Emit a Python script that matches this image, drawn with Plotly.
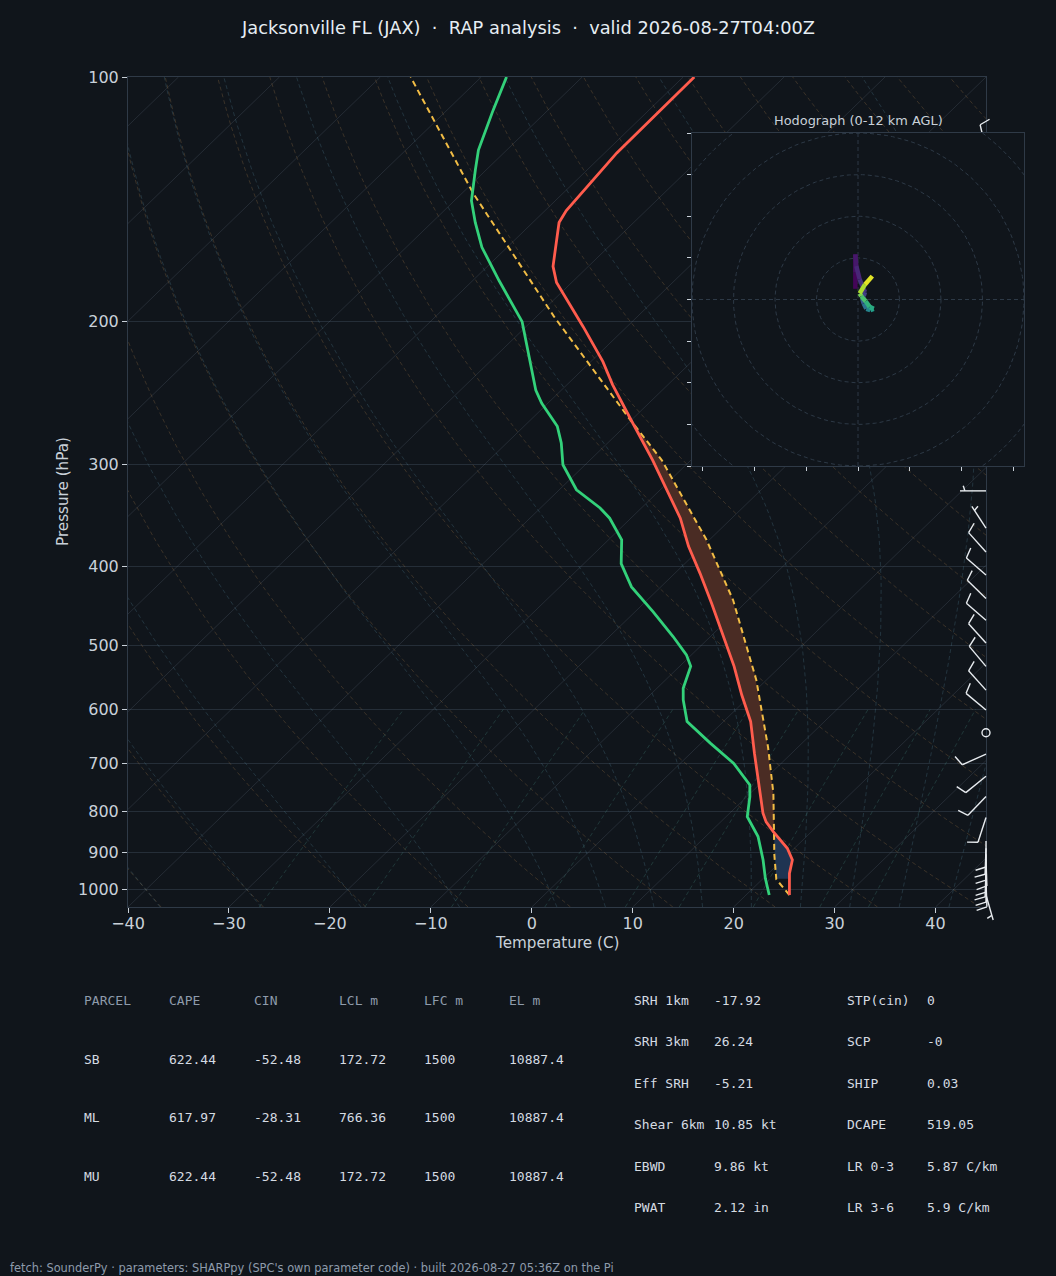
import numpy as np
import plotly.graph_objects as go
from plotly.colors import sample_colorscale

# ------------------------------------------------------------------ data
TITLE = ("Jacksonville FL (JAX)\u00a0\u00a0·\u00a0\u00a0RAP analysis"
         "\u00a0\u00a0·\u00a0\u00a0valid 2026-08-27T04:00Z")
FOOTER = ("fetch: SounderPy · parameters: SHARPpy (SPC's own parameter code) · "
          "built 2026-08-27 05:36Z on the Pi")

# environmental temperature (hPa, degC)
temp_p = [1015, 955, 919, 889, 848, 825, 805, 747, 679, 621, 576, 531, 495, 444,
          408, 378, 349, 321, 296, 262, 239, 224, 203, 179, 171, 151, 146, 124,
          109, 100]
temp_c = [24.3, 22.1, 21.0, 19.3, 16.2, 14.5, 13.3, 10.2, 6.3, 2.7, -0.9, -4.6,
          -8.0, -13.3, -17.5, -21.4, -25.1, -29.5, -33.8, -40.5, -45.5, -48.8,
          -54.3, -61.5, -63.5, -67.4, -67.9, -68.8, -68.9, -68.9]

# dewpoint
dewp_p = [1015, 968, 919, 860, 813, 768, 743, 699, 660, 621, 584, 565, 531, 514,
          488, 455, 424, 397, 371, 349, 339, 322, 300, 282, 269, 252, 243, 217,
          200, 178, 162, 151, 142, 130, 123, 110, 100]
dewp_c = [22.3, 20.2, 18.1, 15.2, 12.1, 10.3, 9.1, 5.3, 0.9, -3.6, -6.2, -7.4,
          -8.9, -10.5, -13.7, -18.2, -22.9, -26.3, -28.7, -32.1, -34.1, -38.3,
          -42.2, -44.6, -46.7, -50.6, -52.5, -57.4, -60.9, -67.4, -72.5, -75.7,
          -78.3, -81.1, -82.8, -85.4, -87.5]

# surface-based parcel path
parcel_p = [1015, 971, 906, 848, 761, 667, 552, 440, 371, 296, 263, 197, 139, 100]
parcel_c = [24.3, 21.4, 18.7, 16.3, 12.3, 7.0, -1.0, -11.5, -20.3, -32.9, -40.4,
            -58.3, -78.9, -97.0]

# wind barbs (pressure hPa, direction deg, speed kt)
barb_p = [123, 323, 359, 384, 410, 438, 466, 497, 531, 568, 601, 641, 681, 725,
          768, 815, 871, 889, 904, 919, 935, 948, 962, 975, 1015]
barb_dir = [347, 270, 327, 318, 311, 314, 311, 318, 320, 318, 310, 0, 246, 231,
            224, 198, 180, 182, 180, 178, 180, 182, 180, 178, 164]
barb_kt = [10, 5, 5, 10, 10, 10, 10, 10, 10, 10, 10, 0, 10, 10, 10, 10, 10, 10,
           10, 10, 10, 10, 10, 10, 5]

# hodograph (height km AGL, u, v)
hodo_km = [0.0, 0.3, 0.6, 1.0, 1.5, 2.0, 2.5, 3.0, 4.0, 5.0, 6.0, 7.0, 7.5, 8.0,
           9.0, 10.0, 11.0, 12.0]
hodo_u = [-0.64, -0.64, -0.64, -0.40, 0.40, 1.69, 1.37, 1.04, 1.37, 2.01, 2.97,
          3.78, 2.81, 1.85, 0.80, 0.40, 1.69, 3.45]
hodo_v = [2.57, 6.43, 10.84, 8.03, 4.82, 1.77, 0.80, 0.16, -0.96, -2.25, -2.57,
          -2.25, -1.77, -0.40, 0.80, 1.45, 3.61, 5.62]

temp_ticks = [-40, -30, -20, -10, 0, 10, 20, 30, 40]
temp_ticklabels = ["\u221240", "\u221230", "\u221220", "\u221210", "0", "10", "20", "30", "40"]
pres_ticks = [100, 200, 300, 400, 500, 600, 700, 800, 900, 1000]
hodo_rings = [10, 20, 30, 40, 50]
hodo_xticks = [-37.5, -25, -12.5, 0, 12.5, 25, 37.5]
hodo_yticks = [-40, -30, -20, -10, 0, 10, 20, 30, 40]

parcel_header = ["PARCEL", "CAPE", "CIN", "LCL m", "LFC m", "EL m"]
parcel_rows = [
    ["SB", "622.44", "-52.48", "172.72", "1500", "10887.4"],
    ["ML", "617.97", "-28.31", "766.36", "1500", "10887.4"],
    ["MU", "622.44", "-52.48", "172.72", "1500", "10887.4"],
]
param_left_names = ["SRH 1km", "SRH 3km", "Eff SRH", "Shear 6km", "EBWD", "PWAT"]
param_left_vals = ["-17.92", "26.24", "-5.21", "10.85 kt", "9.86 kt", "2.12 in"]
param_right_names = ["STP(cin)", "SCP", "SHIP", "DCAPE", "LR 0-3", "LR 3-6"]
param_right_vals = ["0", "-0", "0.03", "519.05", "5.87 C/km", "5.9 C/km"]

dry_t0 = list(range(-40, 246, 10))
moist_t0 = [-40, -30, -20, -10] + list(range(0, 46, 5))
mixing_w = [0.0004, 0.001, 0.002, 0.004, 0.007, 0.01, 0.016, 0.024, 0.032]

# ------------------------------------------------------------------ layout geometry
W, H = 1056, 1276
PX0, PX1, PY0, PY1 = 128, 986, 77, 907          # main plot box (px)
HX0, HX1, HY0, HY1 = 692, 1024, 133, 466        # hodograph box (px)
BX0, BX1, BY0, BY1 = 118, 1010, 60, 937         # unclipped barb overlay box (px)
XMIN, XMAX = -40, 45
P_BOT, P_TOP = 1050, 100
DEC = np.log10(P_BOT / P_TOP)
K = (XMAX - XMIN) / DEC                          # 45-degree skew
PX_PER_C = (PX1 - PX0) / (XMAX - XMIN)
PX_PER_DEC = (PY1 - PY0) / DEC

BG = "#10151b"
GRID = "#252e38"
FRAME = "#2f3a47"
TXT = "#c9d1d9"


def skew(t, p):
    return np.asarray(t, dtype=float) + K * np.log10(P_BOT / np.asarray(p, dtype=float))


def joined(curves):
    xs, ys = [], []
    for x, y in curves:
        xs += list(x) + [None]
        ys += list(y) + [None]
    return xs, ys


fig = go.Figure()

# ---- isotherms
iso = []
for t in range(-120, 41, 10):
    pp = np.array([P_BOT, P_TOP])
    iso.append((skew([t, t], pp), pp))
x, y = joined(iso)
fig.add_trace(go.Scatter(x=x, y=y, mode="lines", hoverinfo="skip",
                         line=dict(color="rgba(120,140,160,0.22)", width=0.9)))

# ---- dry adiabats
p_full = np.logspace(np.log10(P_BOT), np.log10(P_TOP), 90)
dry = []
for t0 in dry_t0:
    tt = (t0 + 273.15) * (p_full / 1000.0) ** 0.2857 - 273.15
    dry.append((skew(tt, p_full), p_full))
x, y = joined(dry)
fig.add_trace(go.Scatter(x=x, y=y, mode="lines", hoverinfo="skip",
                         line=dict(color="rgba(160,120,70,0.33)", width=0.9, dash="4px,3px")))

# ---- moist adiabats
RD, CP, LV, EPS = 287.04, 1005.7, 2.501e6, 0.622


def dTdp(T, p):
    es = 6.112 * np.exp(17.67 * (T - 273.15) / (T - 29.65))
    rs = EPS * es / (p - es)
    return ((RD * T + LV * rs) / p) / (CP + (LV * LV * rs * EPS) / (RD * T * T))


def integrate(T0, ps):
    out = [T0]
    T = T0
    for i in range(len(ps) - 1):
        h = (ps[i + 1] - ps[i]) / 4.0
        p = ps[i]
        for _ in range(4):
            k1 = dTdp(T, p)
            k2 = dTdp(T + h * k1 / 2, p + h / 2)
            k3 = dTdp(T + h * k2 / 2, p + h / 2)
            k4 = dTdp(T + h * k3, p + h)
            T += h * (k1 + 2 * k2 + 2 * k3 + k4) / 6
            p += h
        out.append(T)
    return np.array(out)


p_up = np.logspace(3, 2, 100)
p_dn = np.linspace(1000, P_BOT, 6)
moist = []
for t0 in moist_t0:
    up = integrate(t0 + 273.15, p_up)
    dn = integrate(t0 + 273.15, p_dn)
    pp = np.concatenate([p_dn[::-1], p_up[1:]])
    tt = np.concatenate([dn[::-1], up[1:]]) - 273.15
    moist.append((skew(tt, pp), pp))
x, y = joined(moist)
fig.add_trace(go.Scatter(x=x, y=y, mode="lines", hoverinfo="skip",
                         line=dict(color="rgba(80,130,150,0.32)", width=0.9, dash="4px,3px")))

# ---- mixing-ratio lines
p_mix = np.linspace(P_BOT, 600, 30)
mix = []
for w in mixing_w:
    e = w * p_mix / (EPS + w)
    le = np.log(e / 6.112)
    td = 243.5 * le / (17.67 - le)
    mix.append((skew(td, p_mix), p_mix))
x, y = joined(mix)
fig.add_trace(go.Scatter(x=x, y=y, mode="lines", hoverinfo="skip",
                         line=dict(color="rgba(70,140,130,0.32)", width=0.9, dash="4px,3px")))

# ---- CAPE / CIN shading
pg = np.logspace(np.log10(parcel_p[0]), np.log10(P_TOP), 900)
te = np.interp(-np.log10(pg), -np.log10(temp_p), temp_c)
tp = np.interp(-np.log10(pg), -np.log10(parcel_p), parcel_c)
diff = tp - te
i_lcl = int(np.argmax(pg <= parcel_p[1]))
i_lfc = i_lcl + int(np.argmax(diff[i_lcl:] > 0))
i_el = i_lfc + int(np.argmax(diff[i_lfc:] <= 0))


def region(i0, i1):
    ps = pg[i0:i1 + 1]
    xa = skew(tp[i0:i1 + 1], ps)
    xb = skew(te[i0:i1 + 1], ps)
    return list(xa) + list(xb[::-1]), list(ps) + list(ps[::-1])


x, y = region(i_lfc, i_el)
fig.add_trace(go.Scatter(x=x, y=y, mode="lines", fill="toself", fillcolor="#4a2c24",
                         line=dict(width=0, color="#4a2c24"), hoverinfo="skip"))
x, y = region(i_lcl, i_lfc)
fig.add_trace(go.Scatter(x=x, y=y, mode="lines", fill="toself", fillcolor="#1f3452",
                         line=dict(width=0, color="#1f3452"), hoverinfo="skip"))

# ---- profiles
fig.add_trace(go.Scatter(x=skew(parcel_c, parcel_p), y=parcel_p, mode="lines",
                         line=dict(color="#f2bd45", width=2.0, dash="6px,4px")))
fig.add_trace(go.Scatter(x=skew(temp_c, temp_p), y=temp_p, mode="lines",
                         line=dict(color="#ff5c4d", width=2.8)))
fig.add_trace(go.Scatter(x=skew(dewp_c, dewp_p), y=dewp_p, mode="lines",
                         line=dict(color="#33d17a", width=2.8)))

# ---- wind barbs (matplotlib-style geometry in pixels) on an unclipped overlay subplot
L = 26.0
FH, FW, SP = 0.4 * L, 0.25 * L, 0.125 * L
bx, by, cx, cy = [], [], [], []
for p, d, s in zip(barb_p, barb_dir, barb_kt):
    if s < 2.5:
        cx.append(XMAX)
        cy.append(p)
        continue
    r = np.deg2rad(d)
    sx, sy = np.sin(r), np.cos(r)
    nx, ny = np.cos(r), -np.sin(r)
    segs = [((0.0, 0.0), (L * sx, L * sy))]
    n5 = int(round(s / 5.0))
    nfull, nhalf = divmod(n5, 2)
    off = L
    for _ in range(nfull):
        a = (off * sx, off * sy)
        segs.append((a, (a[0] + FH * nx + FW / 2 * sx, a[1] + FH * ny + FW / 2 * sy)))
        off -= SP
    if nhalf:
        if off == L:
            off -= 1.5 * SP
        a = (off * sx, off * sy)
        segs.append((a, (a[0] + FH / 2 * nx + FW / 4 * sx, a[1] + FH / 2 * ny + FW / 4 * sy)))
    for a, b in segs:
        for dx, dy in (a, b):
            bx.append(XMAX + dx / PX_PER_C)
            by.append(p * 10 ** (-dy / PX_PER_DEC))
        bx.append(None)
        by.append(None)
fig.add_trace(go.Scatter(x=bx, y=by, xaxis="x2", yaxis="y2", mode="lines", hoverinfo="skip",
                         line=dict(color="#e8ecf0", width=1.4)))
fig.add_trace(go.Scatter(x=cx, y=cy, xaxis="x2", yaxis="y2", mode="markers", hoverinfo="skip",
                         marker=dict(symbol="circle-open", size=8, color="#e8ecf0",
                                     line=dict(width=1.4, color="#e8ecf0"))))

# ---- hodograph (opaque panel first, then rings, then the trace)
fig.add_trace(go.Scatter(x=[-45, 45, 45, -45, -45], y=[-45, -45, 45, 45, -45], xaxis="x3",
                         yaxis="y3", mode="lines", fill="toself", fillcolor=BG,
                         line=dict(width=0, color=BG), hoverinfo="skip"))
th = np.linspace(0, 2 * np.pi, 181)
rings = [(r * np.cos(th), r * np.sin(th)) for r in hodo_rings]
x, y = joined(rings)
fig.add_trace(go.Scatter(x=x, y=y, xaxis="x3", yaxis="y3", mode="lines", hoverinfo="skip",
                         line=dict(color="#2d3946", width=1, dash="4px,3px")))
fig.add_trace(go.Scatter(x=[-40, 40, None, 0, 0], y=[0, 0, None, -40, 40], xaxis="x3",
                         yaxis="y3", mode="lines", hoverinfo="skip",
                         line=dict(color="#2d3946", width=1, dash="4px,3px")))
hmax = max(hodo_km)
for i in range(len(hodo_km) - 1):
    c = sample_colorscale("Viridis", [(hodo_km[i] + hodo_km[i + 1]) / 2 / hmax])[0]
    fig.add_trace(go.Scatter(x=hodo_u[i:i + 2], y=hodo_v[i:i + 2], xaxis="x3", yaxis="y3",
                             mode="lines", hoverinfo="skip", line=dict(color=c, width=4.5)))

# ------------------------------------------------------------------ annotations
anns = []


def ann(text, xp, yp, size, color, family="DejaVu Sans", xanchor="left", angle=0):
    anns.append(dict(text=text, x=xp / W, y=1 - yp / H, xref="paper", yref="paper",
                     xanchor=xanchor, yanchor="middle", showarrow=False, textangle=angle,
                     borderpad=0, font=dict(size=size, color=color, family=family)))


ann(TITLE, 528, 27, 17.8, "#e6edf3", xanchor="center")
ann("Temperature (C)", (PX0 + PX1) / 2, 943, 15.2, TXT, xanchor="center")
ann("Pressure (hPa)", 63, (PY0 + PY1) / 2, 15.2, TXT, xanchor="center", angle=-90)
ann("Hodograph (0-12 km AGL)", (HX0 + HX1) / 2, 120, 12.9, TXT, xanchor="center")

MONO = "DejaVu Sans Mono"
col_x = [83, 168, 253, 338, 423, 508]
row_y = [1000, 1059, 1117, 1176]
for cx_, h in zip(col_x, parcel_header):
    ann(h, cx_, row_y[0], 13, "#8e9bab", MONO)
for ry, row in zip(row_y[1:], parcel_rows):
    for cx_, v in zip(col_x, row):
        ann(v, cx_, ry, 13, "#d5dbe2", MONO)

prow_y = [1000, 1041, 1083, 1124, 1166, 1207]
for ry, n, v in zip(prow_y, param_left_names, param_left_vals):
    ann(n, 633, ry, 13, "#d5dbe2", MONO)
    ann(v, 713, ry, 13, "#d5dbe2", MONO)
for ry, n, v in zip(prow_y, param_right_names, param_right_vals):
    ann(n, 846, ry, 13, "#d5dbe2", MONO)
    ann(v, 926, ry, 13, "#d5dbe2", MONO)

ann(FOOTER, 9, 1268, 11.4, "#8e9bab")

# ------------------------------------------------------------------ layout
b_xrange = [XMIN + (BX0 - PX0) / PX_PER_C, XMIN + (BX1 - PX0) / PX_PER_C]
b_yrange = [np.log10(P_BOT) + (BY1 - PY1) / PX_PER_DEC,
            np.log10(P_TOP) - (PY0 - BY0) / PX_PER_DEC]
hidden = dict(visible=False, showgrid=False, zeroline=False, showline=False,
              showticklabels=False, ticks="", automargin=False)

fig.update_layout(
    width=W, height=H, showlegend=False,
    margin=dict(l=0, r=0, t=0, b=0, pad=0),
    paper_bgcolor=BG, plot_bgcolor="rgba(0,0,0,0)",
    font=dict(family="DejaVu Sans", color=TXT),
    annotations=anns,
    xaxis=dict(domain=[PX0 / W, PX1 / W], range=[XMIN, XMAX], anchor="y",
               tickmode="array", tickvals=temp_ticks, ticktext=temp_ticklabels,
               ticks="outside", ticklen=5, tickcolor=TXT, tickwidth=1,
               ticklabelstandoff=-3,
               tickfont=dict(size=16, color=TXT, family="DejaVu Sans"),
               showgrid=False, zeroline=False, showline=True, linecolor=FRAME,
               linewidth=1, mirror=True, automargin=False),
    yaxis=dict(domain=[1 - PY1 / H, 1 - PY0 / H], type="log",
               range=[np.log10(P_BOT), np.log10(P_TOP)], anchor="x",
               tickmode="array", tickvals=pres_ticks, ticktext=[str(v) for v in pres_ticks],
               ticks="outside", ticklen=5, tickcolor=TXT, tickwidth=1,
               tickfont=dict(size=16, color=TXT, family="DejaVu Sans"),
               showgrid=True, gridcolor=GRID, gridwidth=1, zeroline=False,
               showline=True, linecolor=FRAME, linewidth=1, mirror=True, automargin=False),
    xaxis2=dict(domain=[BX0 / W, BX1 / W], range=b_xrange, anchor="y2", **hidden),
    yaxis2=dict(domain=[1 - BY1 / H, 1 - BY0 / H], type="log", range=b_yrange,
                anchor="x2", **hidden),
    xaxis3=dict(domain=[HX0 / W, HX1 / W], range=[-40, 40], anchor="y3",
                tickmode="array", tickvals=hodo_xticks, showticklabels=False,
                ticks="outside", ticklen=4, tickcolor=TXT, showgrid=False, zeroline=False,
                showline=True, linecolor=FRAME, mirror=True, automargin=False),
    yaxis3=dict(domain=[1 - HY1 / H, 1 - HY0 / H], range=[-40, 40], anchor="x3",
                tickmode="array", tickvals=hodo_yticks, showticklabels=False,
                ticks="outside", ticklen=4, tickcolor=TXT, showgrid=False, zeroline=False,
                showline=True, linecolor=FRAME, mirror=True, automargin=False),
)

fig.write_html(
    "out.html",
    config={"displayModeBar": False},
    post_script=("document.body.style.margin='0px';"
                 "document.body.style.padding='0px';"
                 "document.body.style.overflow='hidden';"
                 "document.body.style.background='" + BG + "';"),
)
